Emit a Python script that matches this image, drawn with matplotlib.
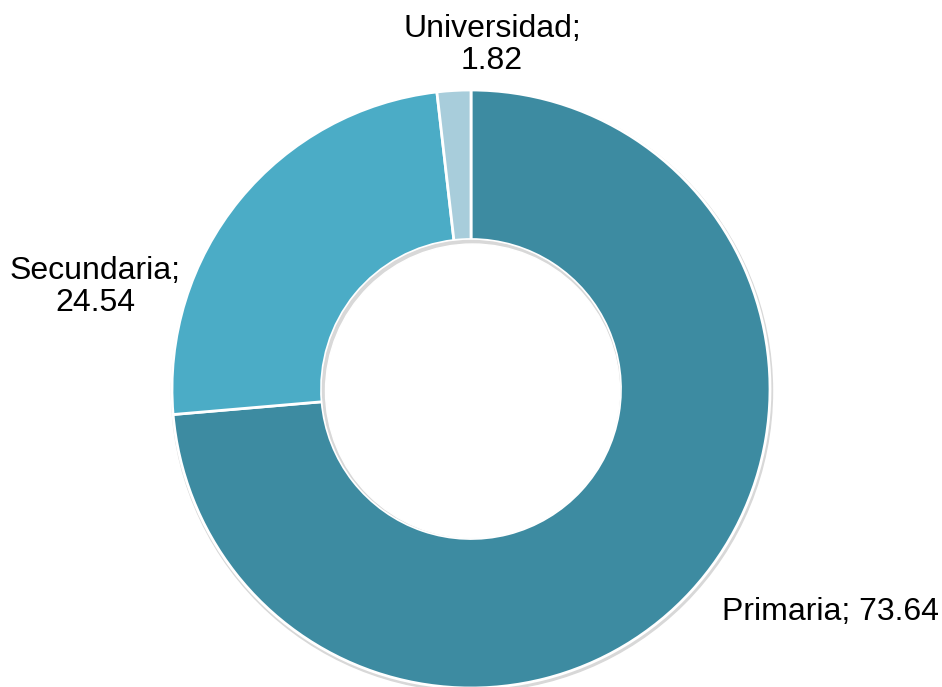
import matplotlib.pyplot as plt
from matplotlib.patches import Circle

plt.rcParams['font.family'] = ['Liberation Sans', 'DejaVu Sans']

categories = ['Primaria', 'Secundaria', 'Universidad']
values = [73.64, 24.54, 1.82]
colors = ['#3D8BA1', '#4BACC6', '#A8CDDB']

fig = plt.figure(figsize=(9.42, 6.87), dpi=100)
ax = fig.add_axes([0, 0, 1, 1])

cx, cy, r = 471, 298, 299

# faint shadow around the ring
ax.add_patch(Circle((cx + 1, cy - 2), r + 1.5, color='#d8d8d8', zorder=0))

ax.pie(values, colors=colors, startangle=90, counterclock=False,
       center=(cx, cy), radius=r, frame=True,
       wedgeprops=dict(width=r * 0.5, edgecolor='white', linewidth=2))
# hole with a soft inner shadow
ax.add_patch(Circle((cx, cy), r * 0.5 - 1, color='#d8d8d8', zorder=5))
ax.add_patch(Circle((cx + 1.5, cy - 2), r * 0.5 - 2.5, color='white', zorder=6))

ax.set_xlim(0, 942)
ax.set_ylim(0, 687)
ax.set_aspect('equal')
ax.axis('off')

fs = 23
ax.text(831, 75, f'{categories[0]}; {values[0]:.2f}', ha='center', va='center', fontsize=fs)
ax.text(95, 400, f'{categories[1]};\n{values[1]:.2f}', ha='center', va='center',
        fontsize=fs, linespacing=1.05)
ax.text(492, 642, f'{categories[2]};\n{values[2]:.2f}', ha='center', va='center',
        fontsize=fs, linespacing=1.05)

fig.savefig('out.png', dpi=100)
